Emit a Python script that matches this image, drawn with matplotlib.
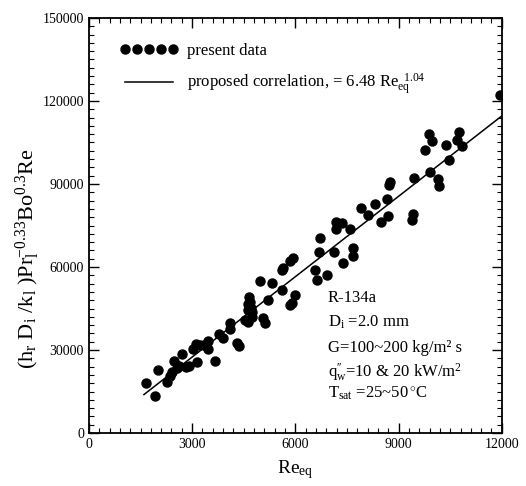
import matplotlib
matplotlib.use("Agg")
import matplotlib.pyplot as plt
from matplotlib.ticker import MultipleLocator

plt.rcParams["font.family"] = ["Liberation Serif", "DejaVu Serif"]
plt.rcParams["mathtext.fontset"] = "custom"
plt.rcParams["mathtext.rm"] = "Liberation Serif"
plt.rcParams["mathtext.it"] = "Liberation Serif:italic"

# measured data (Re_eq, heat-transfer group)
re_eq = [1670, 1920, 2000, 2280, 2355, 2427, 2485, 2560, 2630, 2695,
         2835, 2915, 3040, 3125, 3155, 3225, 3355, 3475, 3475, 3660,
         3795, 3895, 4115, 4115, 4290, 4360, 4660, 4610, 4635, 4725,
         4680, 4750, 4750, 4635, 4535, 4970, 5065, 5115, 5210, 5310,
         5600, 5600, 5650, 5845, 5940, 5890, 5845, 5990, 6570, 6640,
         6910, 6695, 6715, 7120, 7180, 7180, 7345, 7590, 7685, 7685,
         7375, 7900, 8120, 8325, 8490, 8655, 8700, 8750, 8730, 9410,
         9380, 9450, 9910, 10160, 10170, 9780, 9890, 9960, 10370, 10475,
         10690, 10765, 10835, 11950]
nu_grp = [17900, 13400, 22700, 18600, 20600, 22200, 26200, 23600, 24200, 28500,
          24000, 24400, 30500, 32100, 25500, 31900, 31800, 33400, 30500, 26000,
          35900, 34500, 39900, 37700, 32700, 31600, 49100, 46600, 44400, 45300,
          47500, 43700, 41900, 40300, 40800, 55000, 41400, 39600, 48000, 54300,
          51600, 58800, 59500, 62200, 63400, 47000, 46200, 50000, 58800, 55200,
          57200, 65500, 70600, 65500, 76300, 73800, 75900, 73900, 66700, 63900,
          61500, 81300, 78700, 82900, 76300, 84700, 78300, 90700, 89500, 79300,
          76900, 92300, 94300, 91900, 89400, 102300, 107900, 105600, 104200, 98600,
          106000, 108700, 103800, 122200]

# proposed correlation line, end points
corr_x = [1600, 12000]
corr_y = [13900, 114600]

info_lines = ["R-134a",
              r"D$_{\rm i}$ =2.0 mm",
              "G=100~200 kg/m\u00b2 s",
              r"q$_{\rm w}^{\prime\prime}$=10 & 20 kW/m$^{2}$",
              r"T$_{\rm sat}$ =25~50$\,^{\circ}$C"]

fig = plt.figure(figsize=(5.26, 4.86), dpi=100)
ax = fig.add_axes([0.169, 0.109, 0.785, 0.854])

ax.plot(re_eq, nu_grp, "o", color="black", ms=6.5, ls="none", label="present data")
ax.plot(corr_x, corr_y, "-", color="black", lw=1.1,
        label=r"proposed correlation, = 6.48 Re$_{\rm eq}^{\ \ 1.04}$")

ax.set_xlim(0, 12000)
ax.set_ylim(0, 150000)
ax.xaxis.set_major_locator(MultipleLocator(3000))
ax.xaxis.set_minor_locator(MultipleLocator(300))
ax.yaxis.set_major_locator(MultipleLocator(30000))
ax.yaxis.set_minor_locator(MultipleLocator(3000))
ax.tick_params(which="both", direction="in", top=True, right=True, labelsize=10)
ax.tick_params(which="major", length=7, width=1)
ax.tick_params(which="minor", length=3.5, width=0.8)
for s in ax.spines.values():
    s.set_linewidth(1.3)

ax.set_xlabel(r"Re$_{\rm eq}$", fontsize=14, labelpad=5)
ax.set_ylabel(r"(h$_{\rm r}$ D$_{\rm i}$ /k$_{\rm l}$ )Pr$_{\rm l}^{-0.33}$Bo$^{0.3}$Re",
              fontsize=16)
ax.yaxis.set_label_coords(-0.114, 0.42)

ax.legend(loc="upper left", bbox_to_anchor=(0.075, 0.94), frameon=False,
          numpoints=5, handlelength=3.5, handletextpad=0.5, labelspacing=0.8,
          borderpad=0, borderaxespad=0, fontsize=12)

ys = [0.325, 0.267, 0.205, 0.147, 0.096]
for t, yy in zip(info_lines, ys):
    ax.text(0.579, yy, t, transform=ax.transAxes, fontsize=12, va="center", ha="left")

fig.savefig("out.png", dpi=100)
